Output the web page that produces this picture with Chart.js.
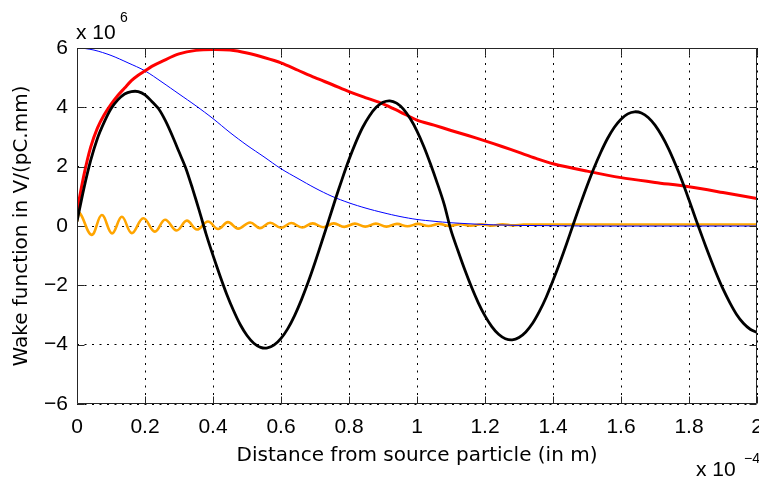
<!DOCTYPE html>
<html>
<head>
<meta charset="utf-8">
<script src="https://cdn.jsdelivr.net/npm/chart.js@4/dist/chart.umd.min.js"></script>
<style>
  html, body { margin: 0; padding: 0; background: #fff; }
  canvas { display: block; }
</style>
</head>
<body>
<canvas id="wake" width="759" height="481"></canvas>
<script>
// x in units of 1e-4 m, y in units of 1e6 V/(pC.mm)
const xTicks = [0, 0.2, 0.4, 0.6, 0.8, 1, 1.2, 1.4, 1.6, 1.8, 2];
const yTicks = [-6, -4, -2, 0, 2, 4, 6];

const blackX = [0, 0.02, 0.04, 0.06, 0.08, 0.1, 0.12, 0.14, 0.16, 0.18,
  0.2, 0.22, 0.24, 0.26, 0.28, 0.3, 0.32, 0.34, 0.36, 0.38,
  0.4, 0.42, 0.44, 0.46, 0.48, 0.5, 0.52, 0.54, 0.56, 0.58,
  0.6, 0.62, 0.64, 0.66, 0.68, 0.7, 0.72, 0.74, 0.76, 0.78,
  0.8, 0.82, 0.84, 0.86, 0.88, 0.9, 0.92, 0.94, 0.96, 0.98,
  1, 1.02, 1.04, 1.06, 1.08, 1.1, 1.12, 1.14, 1.16, 1.18,
  1.2, 1.22, 1.24, 1.26, 1.28, 1.3, 1.32, 1.34, 1.36, 1.38,
  1.4, 1.42, 1.44, 1.46, 1.48, 1.5, 1.52, 1.54, 1.56, 1.58,
  1.6, 1.62, 1.64, 1.66, 1.68, 1.7, 1.72, 1.74, 1.76, 1.78,
  1.8, 1.82, 1.84, 1.86, 1.88, 1.9, 1.92, 1.94, 1.96, 1.98, 2];
const blackY = [0.15, 1.25, 2.2, 2.95, 3.5, 3.95, 4.25, 4.45, 4.53, 4.53,
  4.42, 4.2, 3.95, 3.55, 3.05, 2.5, 1.95, 1.25, 0.5, -0.28,
  -0.99, -1.66, -2.29, -2.84, -3.32, -3.69, -3.95, -4.09, -4.11, -4.01,
  -3.79, -3.46, -3.02, -2.49, -1.89, -1.23, -0.53, 0.18, 0.9, 1.59,
  2.24, 2.82, 3.32, 3.71, 4.0, 4.17, 4.22, 4.14, 3.94, 3.62,
  3.2, 2.68, 2.08, 1.43, 0.73, -0.15, -0.82, -1.46, -2.05, -2.58,
  -3.03, -3.39, -3.65, -3.8, -3.84, -3.76, -3.57, -3.28, -2.88, -2.4,
  -1.84, -1.24, -0.6, 0.07, 0.72, 1.35, 1.94, 2.47, 2.94, 3.32,
  3.6, 3.78, 3.85, 3.81, 3.66, 3.4, 3.04, 2.6, 2.08, 1.51,
  0.88, 0.23, -0.4, -1.01, -1.59, -2.12, -2.58, -2.98, -3.28, -3.48, -3.59];

const redX = [0, 0.02, 0.04, 0.06, 0.08, 0.1, 0.12, 0.14, 0.16, 0.18, 0.2, 0.22, 0.25,
  0.3, 0.35, 0.4, 0.45, 0.5, 0.55, 0.6, 0.65, 0.7, 0.75, 0.8, 0.85, 0.9, 0.95,
  1, 1.05, 1.1, 1.15, 1.2, 1.25, 1.3, 1.35, 1.4, 1.5, 1.6, 1.7, 1.8, 1.9, 2];
const redY = [0.5, 1.7, 2.65, 3.3, 3.75, 4.1, 4.4, 4.65, 4.9, 5.08, 5.23, 5.38, 5.55,
  5.8, 5.92, 5.95, 5.93, 5.83, 5.68, 5.5, 5.25, 5.0, 4.77, 4.53, 4.32, 4.12, 3.85,
  3.57, 3.4, 3.22, 3.05, 2.87, 2.68, 2.48, 2.28, 2.1, 1.85, 1.63, 1.47, 1.32, 1.13, 0.93];

const blueX = [0, 0.05, 0.1, 0.15, 0.2, 0.25, 0.3, 0.35, 0.4, 0.45, 0.5, 0.55, 0.6,
  0.65, 0.7, 0.75, 0.8, 0.85, 0.9, 0.95, 1, 1.05, 1.1, 1.2, 1.3, 1.4, 1.5, 2];
const blueY = [6.02, 5.93, 5.75, 5.5, 5.23, 4.85, 4.45, 4.05, 3.62, 3.15, 2.72, 2.33, 1.93,
  1.6, 1.28, 1.0, 0.78, 0.6, 0.45, 0.32, 0.22, 0.16, 0.11, 0.05, 0.02, 0.01, 0, 0];

const orangeX = [0, 0.008, 0.043, 0.073, 0.103, 0.132, 0.161, 0.195, 0.229, 0.259,
  0.293, 0.323, 0.353, 0.385, 0.415, 0.444, 0.474, 0.509, 0.538, 0.568,
  0.6, 0.63, 0.662, 0.693, 0.724, 0.755, 0.786, 0.817, 0.848, 0.879,
  0.91, 0.941, 0.972, 1.003, 1.034, 1.065, 1.096, 1.127, 1.158, 1.189,
  1.22, 1.251, 1.282, 1.313, 1.34, 2];
const orangeY = [0.15, 0.44, -0.3, 0.37, -0.25, 0.31, -0.24, 0.26, -0.19, 0.21,
  -0.15, 0.18, -0.12, 0.15, -0.1, 0.13, -0.09, 0.12, -0.07, 0.11,
  -0.06, 0.1, -0.05, 0.09, -0.04, 0.09, -0.03, 0.08, -0.02, 0.08,
  -0.02, 0.07, -0.01, 0.07, 0, 0.07, 0, 0.06, 0.01, 0.06,
  0.01, 0.06, 0.02, 0.05, 0.05, 0.05];

const FONT = 'Liberation Sans, Arial, Helvetica, sans-serif';
const TITLE_FONT = 'DejaVu Sans, Liberation Sans, sans-serif';

const pts = (xs, ys) => xs.map((x, i) => ({ x: x, y: ys[i] }));

// matlab style box with inward ticks + the exponent labels
const boxPlugin = {
  id: 'box',
  afterDraw(chart) {
    const { ctx, chartArea: a } = chart;
    const xs = chart.scales.x, ys = chart.scales.y;
    const L = Math.round(a.left) + 0.5, R = Math.round(a.right) - 0.5;
    const T = Math.round(a.top) + 0.5, B = Math.round(a.bottom) - 0.5;
    ctx.save();
    ctx.strokeStyle = '#262626';
    ctx.lineWidth = 1;
    ctx.beginPath();
    ctx.rect(L, T, R - L, B - T);
    xTicks.forEach(v => {
      const px = Math.round(xs.getPixelForValue(v)) + 0.5;
      ctx.moveTo(px, B); ctx.lineTo(px, B - 7);
      ctx.moveTo(px, T); ctx.lineTo(px, T + 7);
    });
    yTicks.forEach(v => {
      const py = Math.round(ys.getPixelForValue(v)) + 0.5;
      ctx.moveTo(L, py); ctx.lineTo(L + 7, py);
      ctx.moveTo(R, py); ctx.lineTo(R - 7, py);
    });
    ctx.stroke();

    ctx.fillStyle = '#000';
    ctx.textBaseline = 'alphabetic';
    ctx.textAlign = 'left';
    ctx.font = '21px ' + FONT;
    ctx.fillText('x 10', 76, 39);
    ctx.fillText('x 10', 696, 476);
    ctx.font = '14px ' + FONT;
    ctx.fillText('6', 120, 22);
    ctx.fillText('\u22124', 744, 463);
    ctx.restore();
  }
};

new Chart(document.getElementById('wake'), {
  type: 'line',
  data: {
    datasets: [
      { data: pts(blackX, blackY), borderColor: '#000000', borderWidth: 2.8, tension: 0.3 },
      { data: pts(redX, redY), borderColor: '#ff0000', borderWidth: 3, tension: 0.3 },
      { data: pts(blueX, blueY), borderColor: '#0000ff', borderWidth: 1, tension: 0.3 },
      { data: pts(orangeX, orangeY), borderColor: '#ffa500', borderWidth: 2.6, tension: 0.4 }
    ]
  },
  options: {
    responsive: false,
    animation: false,
    devicePixelRatio: 1,
    layout: { padding: { top: 48, right: 2, left: 0, bottom: 0 } },
    elements: { point: { radius: 0 } },
    plugins: { legend: { display: false }, tooltip: { enabled: false } },
    scales: {
      x: {
        type: 'linear',
        min: 0, max: 2,
        afterFit: s => { s.height = 77; s.paddingLeft = 0; s.paddingRight = 0; },
        afterBuildTicks: s => { s.ticks = xTicks.map(v => ({ value: v })); },
        ticks: {
          color: '#000', padding: 11, maxRotation: 0, autoSkip: false,
          font: { family: FONT, size: 21 },
          callback: v => String(+v.toFixed(1))
        },
        grid: { color: '#000', lineWidth: 1, drawTicks: false },
        border: { display: false, dash: [2, 5.5] },
        title: {
          display: true, text: 'Distance from source particle (in m)', color: '#000',
          font: { family: TITLE_FONT, size: 20 }, padding: { top: 0, bottom: 13 }
        }
      },
      y: {
        type: 'linear',
        min: -6, max: 6,
        afterFit: s => { s.width = 77; s.paddingTop = 0; s.paddingBottom = 0; },
        afterBuildTicks: s => { s.ticks = yTicks.map(v => ({ value: v })); },
        ticks: {
          color: '#000', padding: 9,
          font: { family: FONT, size: 21 },
          callback: v => (v < 0 ? '\u2212' + Math.abs(v) : String(v))
        },
        grid: { color: '#000', lineWidth: 1, drawTicks: false },
        border: { display: false, dash: [2, 5.5] },
        title: {
          display: true, text: 'Wake function in V/(pC.mm)', color: '#000',
          font: { family: TITLE_FONT, size: 20 }, padding: { top: 10, bottom: 0 }
        }
      }
    }
  },
  plugins: [boxPlugin]
});
</script>
</body>
</html>
